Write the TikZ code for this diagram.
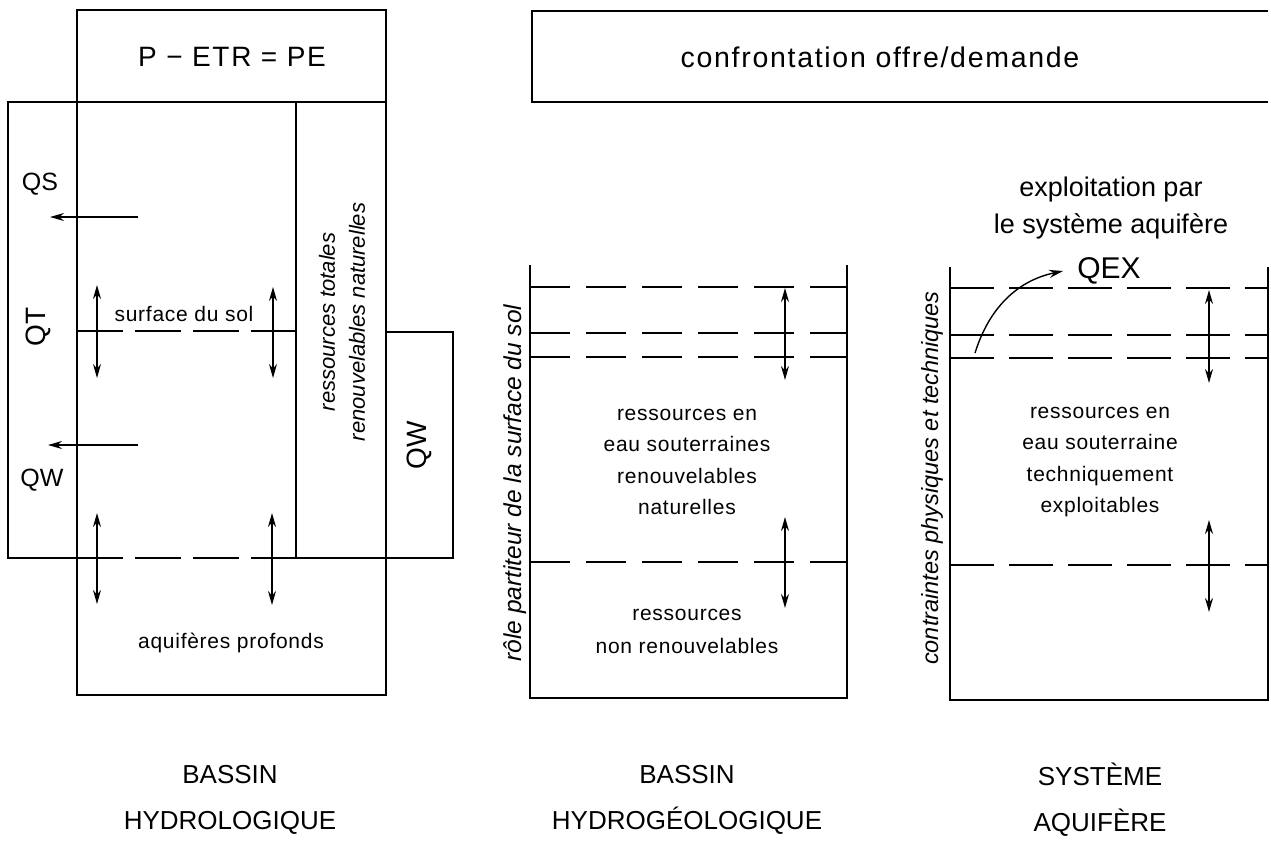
\documentclass[tikz,border=0pt]{standalone}
\usepackage{fontspec}
\setmainfont{Liberation Sans}
\newfontfamily\bodyf[LetterSpace=3.5]{Liberation Sans}
\newfontfamily\widef[LetterSpace=6]{Liberation Sans}
\usetikzlibrary{arrows.meta}
\begin{document}
\begin{tikzpicture}[x=1pt,y=-1pt,
  box/.style={line width=1.8pt, line join=miter},
  dlineA/.style={line width=1.6pt, dash pattern=on 46pt off 12pt},
  dlineB/.style={line width=1.6pt, dash pattern=on 40pt off 16pt},
  dlineC/.style={line width=1.6pt, dash pattern=on 44pt off 15pt},
  tip/.tip={Stealth[length=14pt,width=8pt]},
  darrow/.style={line width=1.4pt,tip-tip},
  sarrow/.style={line width=1.4pt,-tip},
  txt/.style={font=\bodyf\fontsize{21}{31.5}\selectfont, align=center, inner sep=0pt},
  lbl/.style={font=\fontsize{25}{28}\selectfont, inner sep=0pt},
  ttl/.style={font=\fontsize{26}{46}\selectfont, align=center, inner sep=0pt},
  rot/.style={font=\itshape\fontsize{22}{30}\selectfont, rotate=90, align=center, inner sep=0pt},
]
\useasboundingbox (0,0) rectangle (1271,849);

% ---------------- left: bassin hydrologique ----------------
\draw[box] (77,10) rectangle (386,102);
\node[font=\widef\fontsize{28}{30}\selectfont, inner sep=0pt] (pe) at (232,57) {P − ETR = PE};
\draw[box] (77,102) -- (8,102) -- (8,558) -- (77,558);
\draw[box] (77,102) -- (386,102);
\draw[box] (77,102) -- (77,695) -- (386,695) -- (386,102);
\draw[box] (296,102) -- (296,558);
\draw[box] (296,558) -- (453,558) -- (453,332) -- (386,332);
\draw[dlineA] (77,558) -- (296,558);
\draw[dlineA] (77,331) -- (296,331);

\node[lbl] (qs) at (40,184) {QS};
\node[lbl] (qwl) at (42,480) {QW};
\node[lbl, font=\fontsize{28}{30}\selectfont, rotate=90] (qt) at (38,327) {QT};
\node[lbl, font=\fontsize{28}{30}\selectfont, rotate=90] (qwr) at (419,445) {QW};
\node[rot] (rtot) at (342,322) {ressources totales\\renouvelables naturelles};
\node[font=\bodyf\fontsize{21}{24}\selectfont, inner sep=0pt] (sds) at (184,314) {surface du sol};
\node[txt] (aqp) at (231,643) {aquifères profonds};

\coordinate (qsa) at (138,217); \coordinate (qsb) at (50,217);
\coordinate (qwa) at (138,445); \coordinate (qwb) at (48,445);
\draw[sarrow] (qsa) -- (qsb);
\draw[sarrow] (qwa) -- (qwb);
\coordinate (la1) at (97,285); \coordinate (lb1) at (97,378);
\coordinate (la2) at (273,287); \coordinate (lb2) at (273,378);
\coordinate (la3) at (97,513); \coordinate (lb3) at (97,604);
\coordinate (la4) at (272,513); \coordinate (lb4) at (272,605);
\draw[darrow] (la1) -- (lb1);
\draw[darrow] (la2) -- (lb2);
\draw[darrow] (la3) -- (lb3);
\draw[darrow] (la4) -- (lb4);

\node[ttl] (t1) at (230,800) {BASSIN\\HYDROLOGIQUE};

% ---------------- top right banner ----------------
\draw[box] (1268,11) -- (532,11) -- (532,102) -- (1268,102);
\node[font=\widef\fontsize{28.5}{30}\selectfont, inner sep=0pt] (conf) at (880,57) {confrontation offre/demande};

% ---------------- middle: bassin hydrogeologique ----------------
\draw[box] (530,265) -- (530,698) -- (847,698) -- (847,265);
\foreach \y in {287,333,357,562} \draw[dlineB] (530,\y) -- (847,\y);
\coordinate (ma1) at (785,288); \coordinate (mb1) at (785,380);
\coordinate (ma2) at (785,517); \coordinate (mb2) at (785,608);
\draw[darrow] (ma1) -- (mb1);
\draw[darrow] (ma2) -- (mb2);
\node[rot, font=\itshape\fontsize{24.5}{30}\selectfont] (role) at (515,483) {rôle partiteur de la surface du sol};
\node[txt] (mres) at (687,462) {ressources en\\eau souterraines\\renouvelables\\naturelles};
\node[txt, font=\bodyf\fontsize{21}{33}\selectfont] (mnon) at (687,631) {ressources\\non renouvelables};
\node[ttl] (t2) at (687,800) {BASSIN\\HYDROGÉOLOGIQUE};

% ---------------- right: systeme aquifere ----------------
\draw[box] (950,267) -- (950,700) -- (1268,700) -- (1268,267);
\foreach \y in {288,335,358,565} \draw[dlineC] (950,\y) -- (1268,\y);
\coordinate (ra1) at (1209,290); \coordinate (rb1) at (1209,383);
\coordinate (ra2) at (1209,520); \coordinate (rb2) at (1209,612);
\draw[darrow] (ra1) -- (rb1);
\draw[darrow] (ra2) -- (rb2);
\node[rot, font=\itshape\fontsize{23.5}{30}\selectfont] (contr) at (932,478) {contraintes physiques et techniques};
\node[font=\fontsize{27}{37}\selectfont, align=center, inner sep=0pt] (expl) at (1111,208) {exploitation par\\le système aquifère};
\node[font=\fontsize{30}{32}\selectfont, inner sep=0pt] (qex) at (1109,271) {QEX};
\coordinate (qexs) at (975,353);
\draw[sarrow] (qexs) .. controls (990,305) and (1020,280) .. ([xshift=-14pt]qex.west);
\node[txt] (rres) at (1100,462) {ressources en\\eau souterraine\\techniquement\\exploitables};
\node[ttl] (t3) at (1100,800) {SYSTÈME\\AQUIFÈRE};
\end{tikzpicture}
\end{document}
